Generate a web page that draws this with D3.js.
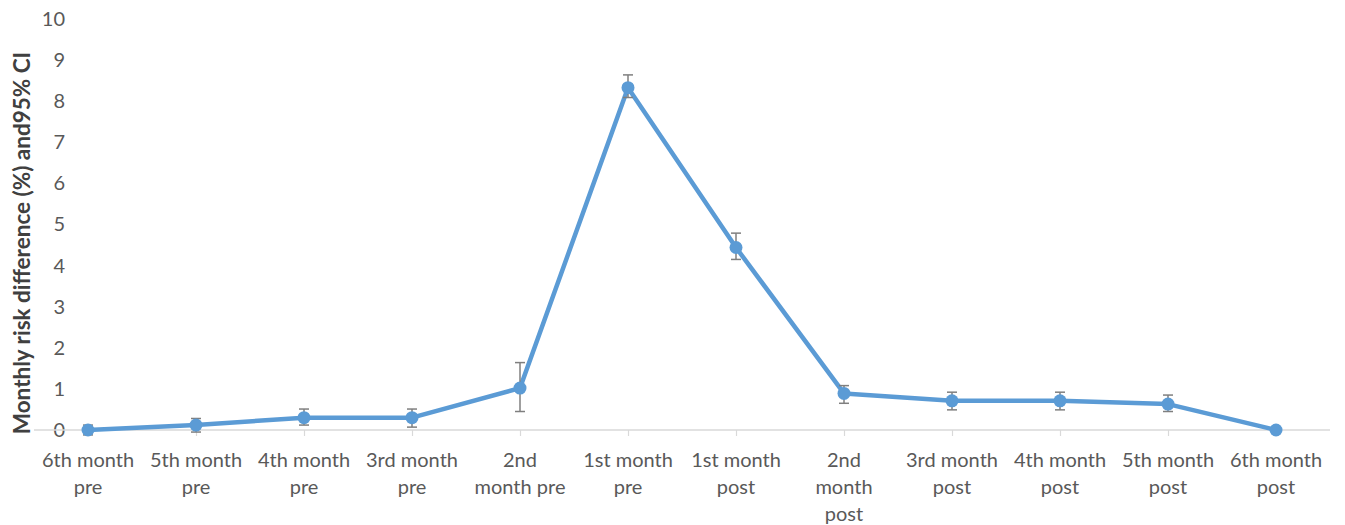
<!DOCTYPE html>
<html>
<head>
<meta charset="utf-8">
<script src="https://cdn.jsdelivr.net/npm/d3@7/dist/d3.min.js"></script>
<style>
  html, body { margin: 0; padding: 0; background: #fff; }
  svg { display: block; }
</style>
</head>
<body>
<svg id="chart" width="1345" height="525"></svg>
<script>
// Months around the index event
const categories = [
  "6th month pre", "5th month pre", "4th month pre", "3rd month pre",
  "2nd month pre", "1st month pre", "1st month post", "2nd month post",
  "3rd month post", "4th month post", "5th month post", "6th month post"
];
// Wrapped tick label lines for each category
const tickLabelLines = [
  ["6th month", "pre"], ["5th month", "pre"], ["4th month", "pre"], ["3rd month", "pre"],
  ["2nd", "month pre"], ["1st month", "pre"], ["1st month", "post"], ["2nd", "month", "post"],
  ["3rd month", "post"], ["4th month", "post"], ["5th month", "post"], ["6th month", "post"]
];
// Monthly risk difference (%) and 95% CI bounds
const riskDiff = [0.00, 0.12, 0.30, 0.30, 1.02, 8.33, 4.44, 0.89, 0.71, 0.71, 0.63, 0.00];
const ciLower  = [-0.12, -0.05, 0.12, 0.07, 0.45, 8.09, 4.15, 0.65, 0.49, 0.49, 0.45, 0.00];
const ciUpper  = [0.12, 0.28, 0.51, 0.51, 1.64, 8.64, 4.79, 1.08, 0.92, 0.92, 0.85, 0.00];
const yTicks = [0, 1, 2, 3, 4, 5, 6, 7, 8, 9, 10];

const svg = d3.select("#chart");
const margin = { left: 34, right: 15, top: 19, bottom: 95 };
const W = 1345, H = 525;

const x = d3.scalePoint()
  .domain(categories)
  .range([margin.left, W - margin.right])
  .padding(0.5);

const y = d3.scaleLinear()
  .domain([0, 10])
  .range([H - margin.bottom, margin.top]);

const font = "Lato, 'Open Sans', 'Liberation Sans', sans-serif";

// Y axis labels (no axis line)
const yAxis = d3.axisLeft(y).tickValues(yTicks).tickSize(0).tickPadding(0);
svg.append("g")
  .attr("transform", `translate(65,0)`)
  .call(yAxis)
  .call(g => g.select(".domain").remove())
  .selectAll("text")
  .attr("font-family", font)
  .attr("font-size", 20)
  .attr("fill", "#595959");

// X axis baseline and ticks
const xAxis = d3.axisBottom(x).tickSize(6).tickFormat("");
const gx = svg.append("g")
  .attr("transform", `translate(0,${y(0)})`)
  .call(xAxis);
gx.select(".domain")
  .attr("stroke", "#d9d9d9")
  .attr("stroke-width", 1.5)
  .attr("d", `M${margin.left},0H${W - margin.right}`);
gx.selectAll(".tick line").attr("stroke", "#d9d9d9").attr("stroke-width", 1.2);

// Wrapped category labels
const labels = svg.append("g")
  .attr("font-family", font)
  .attr("font-size", 20)
  .attr("fill", "#595959")
  .attr("text-anchor", "middle");
categories.forEach((c, i) => {
  const t = labels.append("text")
    .attr("x", x(c))
    .attr("y", y(0) + 37);
  tickLabelLines[i].forEach((line, j) => {
    t.append("tspan")
      .attr("x", x(c))
      .attr("dy", j === 0 ? 0 : 27)
      .text(line);
  });
});

// Y axis title
svg.append("text")
  .attr("transform", `translate(30,243) rotate(-90)`)
  .attr("text-anchor", "middle")
  .attr("font-family", font)
  .attr("font-size", 22.5)
  .attr("font-weight", "bold")
  .attr("fill", "#404040")
  .text("Monthly risk difference (%) and95% CI");

// Series line
const line = d3.line()
  .x((d, i) => x(categories[i]))
  .y(d => y(d));
svg.append("path")
  .datum(riskDiff)
  .attr("fill", "none")
  .attr("stroke", "#5B9BD5")
  .attr("stroke-width", 4.5)
  .attr("stroke-linejoin", "round")
  .attr("d", line);

// Error bars for the 95% CI
const eb = svg.append("g")
  .attr("stroke", "#7f7f7f")
  .attr("stroke-width", 1.5)
  .attr("fill", "none");
categories.forEach((c, i) => {
  if (ciUpper[i] === ciLower[i]) return;
  const cx = x(c);
  eb.append("line").attr("x1", cx).attr("x2", cx).attr("y1", y(ciLower[i])).attr("y2", y(ciUpper[i]));
  eb.append("line").attr("x1", cx - 5).attr("x2", cx + 5).attr("y1", y(ciLower[i])).attr("y2", y(ciLower[i]));
  eb.append("line").attr("x1", cx - 5).attr("x2", cx + 5).attr("y1", y(ciUpper[i])).attr("y2", y(ciUpper[i]));
});

// Point markers
svg.append("g")
  .selectAll("circle")
  .data(riskDiff)
  .join("circle")
  .attr("cx", (d, i) => x(categories[i]))
  .attr("cy", d => y(d))
  .attr("r", 6.5)
  .attr("fill", "#5B9BD5");
</script>
</body>
</html>
